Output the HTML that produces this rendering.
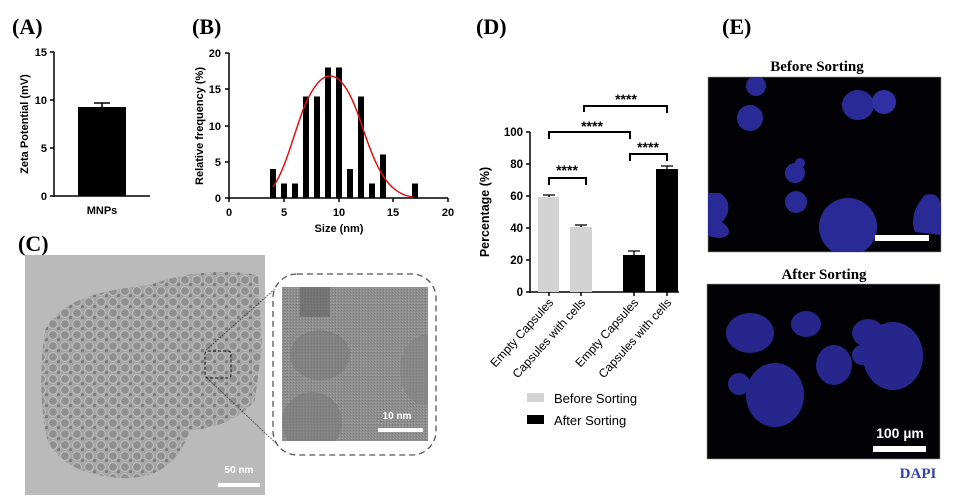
<!DOCTYPE html>
<html><head><meta charset="utf-8"><style>
body{margin:0;background:#fff}
svg{display:block}
.s{font-family:"Liberation Sans",sans-serif;font-weight:bold}
.t{font-family:"Liberation Serif",serif;font-weight:bold}
</style></head><body>
<svg width="955" height="499" viewBox="0 0 955 499" xmlns="http://www.w3.org/2000/svg">
<defs>
<pattern id="np" width="12" height="11" patternUnits="userSpaceOnUse">
<rect width="12" height="11" fill="#a6a6a6"/>
<circle cx="5" cy="5" r="4.3" fill="#8f8f8f" stroke="#c4c4c4" stroke-width="0.8"/>
<circle cx="11" cy="10" r="2" fill="#7d7d7d"/>
</pattern>
<pattern id="hr" width="3" height="3" patternUnits="userSpaceOnUse">
<rect width="3" height="3" fill="#8e8e8e"/><rect width="1" height="1" fill="#a5a5a5"/><rect x="2" y="1" width="1" height="1" fill="#777"/>
</pattern>
<clipPath id="ic"><rect x="282" y="287" width="146" height="154"/></clipPath>
<clipPath id="e1"><rect x="708" y="77" width="233" height="175"/></clipPath>
<clipPath id="e2"><rect x="707" y="284" width="233" height="175"/></clipPath>
</defs>
<rect width="955" height="499" fill="#fff"/>
<text x="12" y="34" class="t" font-size="22">(A)</text>
<text x="192" y="34" class="t" font-size="22">(B)</text>
<text x="18" y="251" class="t" font-size="22">(C)</text>
<text x="476" y="34" class="t" font-size="22">(D)</text>
<text x="722" y="34" class="t" font-size="22">(E)</text>

<!-- Panel A -->
<g class="s" font-size="11" fill="#000">
<line x1="54" y1="52" x2="54" y2="197" stroke="#000" stroke-width="1.5"/>
<line x1="54" y1="196" x2="150" y2="196" stroke="#000" stroke-width="1.5"/>
<g stroke="#000" stroke-width="1.5"><line x1="50" y1="52" x2="54" y2="52"/><line x1="50" y1="100" x2="54" y2="100"/><line x1="50" y1="148" x2="54" y2="148"/><line x1="50" y1="196" x2="54" y2="196"/></g>
<text x="47" y="56" text-anchor="end">15</text><text x="47" y="104" text-anchor="end">10</text><text x="47" y="152" text-anchor="end">5</text><text x="47" y="200" text-anchor="end">0</text>
<rect x="78" y="107" width="48" height="89" fill="#000"/>
<line x1="102" y1="103" x2="102" y2="107" stroke="#000" stroke-width="1.5"/><line x1="94" y1="103" x2="110" y2="103" stroke="#000" stroke-width="1.5"/>
<text x="102" y="214" text-anchor="middle">MNPs</text>
<text transform="translate(28,124) rotate(-90)" text-anchor="middle">Zeta Potential (mV)</text>
</g>

<!-- Panel B -->
<g class="s" font-size="11" fill="#000">
<line x1="229" y1="53" x2="229" y2="199" stroke="#000" stroke-width="1.5"/>
<line x1="228" y1="198" x2="448" y2="198" stroke="#000" stroke-width="1.5"/>
<g stroke="#000" stroke-width="1.5">
<line x1="225" y1="53" x2="229" y2="53"/><line x1="225" y1="89" x2="229" y2="89"/><line x1="225" y1="126" x2="229" y2="126"/><line x1="225" y1="162" x2="229" y2="162"/><line x1="225" y1="198" x2="229" y2="198"/>
<line x1="229" y1="198" x2="229" y2="202"/><line x1="284" y1="198" x2="284" y2="202"/><line x1="339" y1="198" x2="339" y2="202"/><line x1="393" y1="198" x2="393" y2="202"/><line x1="448" y1="198" x2="448" y2="202"/>
</g>
<text x="221" y="57" text-anchor="end">20</text><text x="221" y="93" text-anchor="end">15</text><text x="221" y="130" text-anchor="end">10</text><text x="221" y="166" text-anchor="end">5</text><text x="221" y="202" text-anchor="end">0</text>
<text x="229" y="216" text-anchor="middle">0</text><text x="284" y="216" text-anchor="middle">5</text><text x="339" y="216" text-anchor="middle">10</text><text x="393" y="216" text-anchor="middle">15</text><text x="448" y="216" text-anchor="middle">20</text>
<text x="339" y="232" text-anchor="middle">Size (nm)</text>
<text transform="translate(203,126) rotate(-90)" text-anchor="middle">Relative frequency (%)</text>
<g fill="#000">
<rect x="270" y="169" width="6" height="29"/><rect x="281" y="183.5" width="6" height="14.5"/><rect x="292" y="183.5" width="6" height="14.5"/>
<rect x="303" y="96.5" width="6" height="101.5"/><rect x="314" y="96.5" width="6" height="101.5"/><rect x="325" y="67.5" width="6" height="130.5"/><rect x="336" y="67.5" width="6" height="130.5"/>
<rect x="347" y="169" width="6" height="29"/><rect x="358" y="96.5" width="6" height="101.5"/><rect x="369" y="183.5" width="6" height="14.5"/><rect x="380" y="154.5" width="6" height="43.5"/><rect x="412" y="183.5" width="6" height="14.5"/>
</g>
<path d="M273,187 C285,170 292,140 303,110 C313,85 322,76 330,76 C340,76 350,90 360,120 C370,150 378,172 390,185 C398,193 405,196 413,197" fill="none" stroke="#e01010" stroke-width="1.5"/>
</g>

<!-- Panel C -->
<rect x="25" y="255" width="240" height="240" fill="#bababa"/>
<path d="M45,330 C60,300 100,290 150,285 C190,270 230,270 258,275 L262,345 L255,400 C240,420 210,430 190,430 C180,460 160,480 120,478 C80,475 50,460 45,430 C40,400 40,360 45,330 Z" fill="url(#np)"/>
<rect x="205" y="351" width="26" height="27" rx="3" fill="none" stroke="#111" stroke-width="1" stroke-dasharray="3,2"/>
<line x1="206" y1="350" x2="276" y2="288" stroke="#333" stroke-width="0.7" stroke-dasharray="2,1"/>
<line x1="207" y1="378" x2="281" y2="448" stroke="#333" stroke-width="0.7" stroke-dasharray="2,1"/>
<rect x="218" y="483" width="42" height="4" fill="#fff"/>
<text x="239" y="473" class="s" font-size="10" fill="#fff" text-anchor="middle">50 nm</text>
<rect x="273" y="274" width="163" height="181" rx="24" fill="#fff" stroke="#555" stroke-width="1.3" stroke-dasharray="6,4"/>
<g clip-path="url(#ic)">
<rect x="282" y="287" width="146" height="154" fill="url(#hr)"/>
<ellipse cx="312" cy="422" rx="30" ry="30" fill="#7e7e7e" opacity="0.7"/>
<ellipse cx="425" cy="370" rx="25" ry="35" fill="#858585" opacity="0.7"/>
<ellipse cx="320" cy="355" rx="30" ry="25" fill="#7a7a7a" opacity="0.6"/>
<rect x="300" y="287" width="30" height="30" fill="#6a6a6a" opacity="0.7"/>
</g>
<rect x="378" y="428" width="45" height="4" fill="#fff"/>
<text x="397" y="419" class="s" font-size="10" fill="#fff" text-anchor="middle">10 nm</text>

<!-- Panel D -->
<g class="s" font-size="11.5" fill="#000">
<line x1="530" y1="132" x2="530" y2="293" stroke="#000" stroke-width="1.5"/>
<line x1="529" y1="292" x2="679" y2="292" stroke="#000" stroke-width="1.5"/>
<g stroke="#000" stroke-width="1.5">
<line x1="526" y1="132" x2="530" y2="132"/><line x1="526" y1="164" x2="530" y2="164"/><line x1="526" y1="196" x2="530" y2="196"/><line x1="526" y1="228" x2="530" y2="228"/><line x1="526" y1="260" x2="530" y2="260"/><line x1="526" y1="292" x2="530" y2="292"/>
<line x1="549" y1="292" x2="549" y2="296"/><line x1="581" y1="292" x2="581" y2="296"/><line x1="634" y1="292" x2="634" y2="296"/><line x1="667" y1="292" x2="667" y2="296"/>
</g>
<text x="523" y="136" text-anchor="end">100</text><text x="523" y="168" text-anchor="end">80</text><text x="523" y="200" text-anchor="end">60</text><text x="523" y="232" text-anchor="end">40</text><text x="523" y="264" text-anchor="end">20</text><text x="523" y="296" text-anchor="end">0</text>
<text transform="translate(489,212) rotate(-90)" text-anchor="middle" font-size="12.5">Percentage (%)</text>
<rect x="538" y="197" width="21" height="95" fill="#d3d3d3"/>
<rect x="570" y="227" width="22" height="65" fill="#d3d3d3"/>
<rect x="623" y="255" width="22" height="37" fill="#000"/>
<rect x="656" y="169" width="22" height="123" fill="#000"/>
<g stroke="#000" stroke-width="1.3" fill="none">
<path d="M549,197 V195 M543,195 H555"/><path d="M581,227 V225 M575,225 H587"/>
<path d="M634,255 V251 M628,251 H640"/><path d="M667,169 V166 M661,166 H673"/>
</g>
<g stroke="#000" stroke-width="2" fill="none">
<path d="M549,185 V178 H586 V185"/>
<path d="M549,139 V132 H630 V139"/>
<path d="M630,161 V154 H667 V161"/>
<path d="M584,112 V106 H667 V113"/>
</g>
<g font-size="14">
<text x="567" y="175" text-anchor="middle">****</text>
<text x="592" y="131" text-anchor="middle">****</text>
<text x="648" y="152" text-anchor="middle">****</text>
<text x="626" y="104" text-anchor="middle">****</text>
</g>
<g font-weight="normal" font-size="12">
<text transform="translate(554,303) rotate(-48)" text-anchor="end">Empty Capsules</text>
<text transform="translate(586,303) rotate(-48)" text-anchor="end">Capsules with cells</text>
<text transform="translate(639,303) rotate(-48)" text-anchor="end">Empty Capsules</text>
<text transform="translate(672,303) rotate(-48)" text-anchor="end">Capsules with cells</text>
</g>
<rect x="527" y="393" width="17" height="9" fill="#d3d3d3"/>
<rect x="527" y="415" width="17" height="9" fill="#000"/>
<text x="554" y="403" font-weight="normal" font-size="13">Before Sorting</text>
<text x="554" y="425" font-weight="normal" font-size="13">After Sorting</text>
</g>

<!-- Panel E -->
<text x="817" y="71" class="t" font-size="15" text-anchor="middle">Before Sorting</text>
<rect x="708" y="77" width="233" height="175" fill="#020206" stroke="#999" stroke-width="0.6"/>
<g fill="#2a2a96" clip-path="url(#e1)">
<circle cx="756" cy="86" r="10"/><circle cx="750" cy="118" r="13"/>
<ellipse cx="858" cy="105" rx="16" ry="15"/><circle cx="884" cy="102" r="12" fill="#3030a4"/>
<circle cx="795" cy="173" r="10"/><circle cx="800" cy="163" r="5"/><circle cx="796" cy="202" r="11"/>
<path d="M708,193 H720 C732,200 730,215 722,222 C735,232 728,238 718,238 L708,236Z"/>
<circle cx="848" cy="227" r="29"/><path d="M925,195 C945,190 941,210 941,235 L915,232 C910,220 915,205 925,195Z"/>
</g>
<rect x="875" y="235" width="54" height="6" fill="#fff"/>
<text x="824" y="279" class="t" font-size="15" text-anchor="middle">After Sorting</text>
<rect x="707" y="284" width="233" height="175" fill="#020206" stroke="#999" stroke-width="0.6"/>
<g fill="#26268c" clip-path="url(#e2)">
<ellipse cx="750" cy="333" rx="24" ry="20"/><ellipse cx="806" cy="324" rx="15" ry="13"/>
<ellipse cx="868" cy="333" rx="16" ry="14"/><ellipse cx="893" cy="356" rx="30" ry="34"/><circle cx="862" cy="355" r="10"/>
<ellipse cx="834" cy="365" rx="18" ry="20"/><ellipse cx="739" cy="384" rx="11" ry="11"/>
<ellipse cx="775" cy="395" rx="29" ry="32"/>
</g>
<rect x="873" y="446" width="53" height="6" fill="#fff"/>
<text x="900" y="438" class="s" font-size="14" font-weight="normal" fill="#fff" text-anchor="middle">100 µm</text>
<text x="918" y="478" class="t" font-size="15" fill="#3344aa" text-anchor="middle">DAPI</text>
</svg>
</body></html>
